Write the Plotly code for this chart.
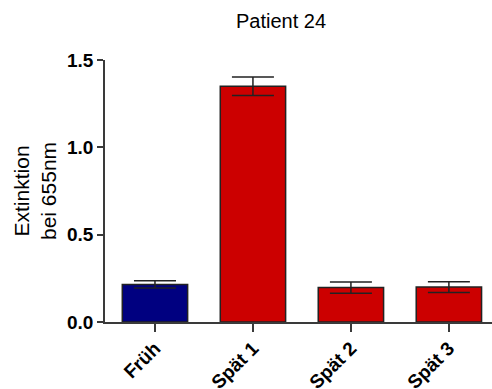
import plotly.graph_objects as go

# Absorbance readings per sampling time point
categories = ["Früh", "Spät 1", "Spät 2", "Spät 3"]
values = [0.215, 1.350, 0.197, 0.200]
errors = [0.021, 0.053, 0.032, 0.031]
bar_colors = ["#000080", "#CC0000", "#CC0000", "#CC0000"]

W, H = 492, 389
L, R, T, B = 105, 0, 60, 67
FONT = "Liberation Sans, Arial, sans-serif"
AX = "#3a3a3a"

fig = go.Figure(
    go.Bar(
        x=categories,
        y=values,
        width=0.667,
        marker=dict(color=bar_colors, line=dict(color="#222222", width=1.5)),
        error_y=dict(type="data", array=errors, visible=True,
                     color="#222222", thickness=1.5, width=21),
    )
)

fig.update_layout(
    width=W, height=H,
    margin=dict(l=L, r=R, t=T, b=B),
    paper_bgcolor="white", plot_bgcolor="white",
    showlegend=False,
    font=dict(family=FONT, color="black"),
    title=dict(text="Patient 24", x=281 / W, xanchor="center",
               y=1 - 21 / H, yanchor="middle",
               font=dict(size=20, family=FONT, color="black")),
    xaxis=dict(
        range=[-0.51, 3.44],
        automargin=False,
        showline=True, linecolor=AX, linewidth=1.5,
        ticks="outside", ticklen=8, tickcolor=AX, tickwidth=1.5,
        tickangle=-45, ticklabelstandoff=-2,
        tickfont=dict(size=19, family=FONT, weight="bold", color="black"),
        showgrid=False, zeroline=False,
    ),
    yaxis=dict(
        range=[0, 1.5],
        automargin=False,
        tickvals=[0, 0.5, 1.0, 1.5],
        ticktext=["0.0", "0.5", "1.0", "1.5"],
        showline=True, linecolor=AX, linewidth=1.5,
        ticks="outside", ticklen=6, tickcolor=AX, tickwidth=1.5,
        tickfont=dict(size=19, family=FONT, weight="bold", color="black"),
        showgrid=False, zeroline=False,
    ),
    annotations=[
        dict(text="Extinktion<br>bei 655nm", textangle=-90,
             xref="paper", yref="paper",
             x=(35 - L) / (W - L - R), y=0.5,
             xanchor="center", yanchor="middle", showarrow=False,
             font=dict(size=21, family=FONT, color="black")),
    ],
)

fig.write_html("out.html")
